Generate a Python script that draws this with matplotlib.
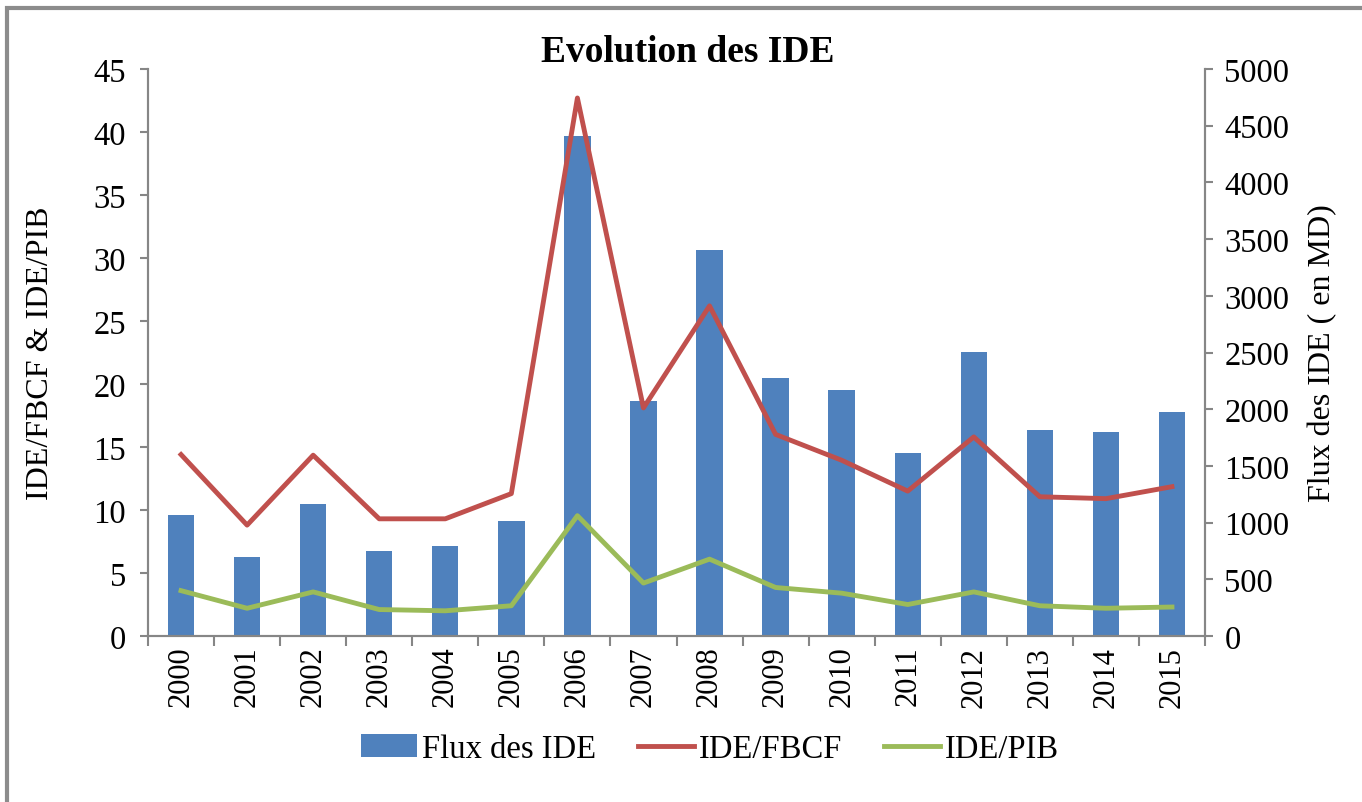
import matplotlib.pyplot as plt
from matplotlib.patches import Rectangle
import numpy as np

years = ['2000', '2001', '2002', '2003', '2004', '2005', '2006', '2007',
         '2008', '2009', '2010', '2011', '2012', '2013', '2014', '2015']
flux_ide = [1068, 695, 1164, 748, 792, 1015, 4408, 2069,
            3400, 2279, 2166, 1617, 2505, 1813, 1803, 1973]
ide_fbcf = [14.4, 8.8, 14.35, 9.3, 9.3, 11.3, 42.7, 18.1,
            26.2, 16.0, 13.95, 11.5, 15.8, 11.05, 10.9, 11.85]
ide_pib = [3.6, 2.2, 3.5, 2.1, 2.0, 2.4, 9.55, 4.2,
           6.1, 3.85, 3.4, 2.5, 3.5, 2.4, 2.2, 2.3]

plt.rcParams['font.family'] = ['Liberation Serif', 'DejaVu Serif']

blue = '#4F81BD'
red = '#C0504D'
green = '#9BBB59'
grey = '#868686'

fig = plt.figure(figsize=(13.62, 8.03), dpi=100)
# grey outer frame
fig.patches.append(Rectangle((7 / 1362, -0.05), 1.2, 1 - 9 / 803 + 0.05,
                             transform=fig.transFigure, fill=False,
                             edgecolor='#8c8c8c', linewidth=3))

ax = fig.add_axes([148 / 1362, 166 / 803, 1057 / 1362, 567 / 803])
ax2 = ax.twinx()
ax.set_zorder(ax2.get_zorder() + 1)
ax.patch.set_visible(False)

x = np.arange(len(years))

# bars on the right axis
ax2.bar(x, flux_ide, width=0.4, color=blue, label='Flux des IDE')
ax2.set_ylim(0, 5000)
ax2.set_yticks(range(0, 5001, 500))

# lines on the left axis
ax.plot(x, ide_fbcf, color=red, linewidth=3.5, label='IDE/FBCF')
ax.plot(x, ide_pib, color=green, linewidth=3.5, label='IDE/PIB')
ax.set_ylim(0, 45)
ax.set_yticks(range(0, 46, 5))
ax.set_xlim(-0.5, len(years) - 0.5)

ax.set_xticks(x)
ax.set_xticklabels(years, rotation=90)
ax.set_xticks(np.arange(-0.5, len(years)), minor=True)
ax.tick_params(axis='x', which='major', length=0, pad=7, labelsize=22)
ax.tick_params(axis='x', which='minor', length=7, color=grey, width=1.5)
ax.tick_params(axis='y', length=6, color=grey, width=1.5, labelsize=23.5, pad=10)
ax2.tick_params(axis='y', length=6, color=grey, width=1.5, labelsize=23.5, pad=8)

for a in (ax, ax2):
    a.spines['top'].set_visible(False)
    for s in ('left', 'right', 'bottom'):
        a.spines[s].set_color(grey)
        a.spines[s].set_linewidth(1.5)

ax.set_ylabel('IDE/FBCF & IDE/PIB', fontsize=23)
ax.yaxis.set_label_coords(-0.088, 0.5)
ax2.set_ylabel('Flux des IDE ( en MD)', fontsize=23)
ax2.yaxis.set_label_coords(1.097, 0.5)

fig.text(688 / 1362, 1 - 52 / 803, 'Evolution des IDE', ha='center',
         va='center', fontsize=27, fontweight='bold')

h1, l1 = ax2.get_legend_handles_labels()
h2, l2 = ax.get_legend_handles_labels()
fig.legend(h1 + h2, l1 + l2, loc='center', bbox_to_anchor=(710 / 1362, 1 - 750 / 803),
           ncol=3, frameon=False, fontsize=23.5, handlelength=1.7,
           handletextpad=0.15, columnspacing=1.3)

fig.savefig('out.png', dpi=100)
